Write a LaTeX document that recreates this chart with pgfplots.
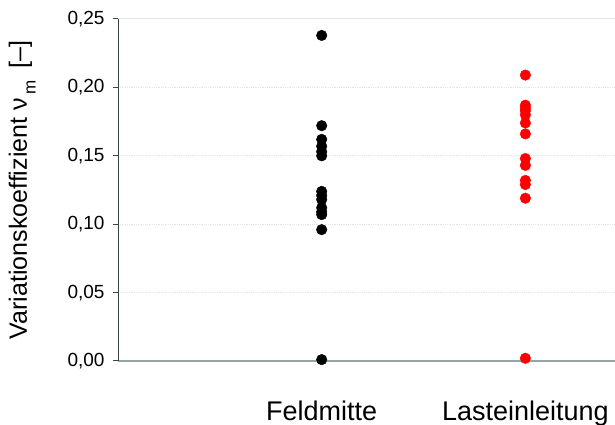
\documentclass[border=0pt]{standalone}
\usepackage{pgfplots}
\pgfplotsset{compat=1.18}
\usepackage{fontspec}
\setmainfont{Liberation Sans}
\definecolor{axgrey}{HTML}{95A5A6}
\definecolor{gridgrey}{HTML}{E4E4E4}
\definecolor{yaxis}{HTML}{3A4444}
\begin{document}
\begin{tikzpicture}
\useasboundingbox (0,0) rectangle (615bp,425bp);
\begin{axis}[
  at={(118bp,64bp)}, anchor=south west,
  scale only axis, width=497bp, height=342bp,
  xmin=0, xmax=2.44, ymin=0, ymax=0.25,
  axis line style={draw=none},
  clip=false,
  ytick={0,0.05,...,0.25},
  xtick={1,2}, xticklabels={Feldmitte,Lasteinleitung},
  major tick length=0pt, tick style={draw=none},
  yticklabel style={font=\fontsize{19bp}{20bp}\selectfont, /pgf/number format/.cd, use comma, fixed, fixed zerofill, precision=2, assume math mode=true, /tikz/.cd, xshift=-10bp},
  xticklabel style={font=\fontsize{27bp}{30bp}\selectfont, yshift=-36bp},
  ylabel={Variationskoeffizient ν\,\raisebox{-0.35em}{\fontsize{17bp}{18bp}\selectfont m}\, [–]},
  ylabel style={font=\fontsize{25bp}{28bp}\selectfont, at={(axis description cs:-0.193,0.5)}, anchor=center},
]
% grid
\addplot[gridgrey, densely dotted, line width=0.8bp, forget plot] coordinates {(0,0.05) (2.44,0.05)};
\addplot[gridgrey, densely dotted, line width=0.8bp, forget plot] coordinates {(0,0.10) (2.44,0.10)};
\addplot[gridgrey, densely dotted, line width=0.8bp, forget plot] coordinates {(0,0.15) (2.44,0.15)};
\addplot[gridgrey, densely dotted, line width=0.8bp, forget plot] coordinates {(0,0.20) (2.44,0.20)};
\addplot[gridgrey, line width=1bp, forget plot] coordinates {(0,0.25) (2.44,0.25)};
% axes
\addplot[axgrey, line width=1.5bp, forget plot] coordinates {(0,0) (2.44,0)};
\addplot[yaxis, line width=1bp, forget plot] coordinates {(0,0) (0,0.25)};
\pgfplotsinvokeforeach{0,0.05,0.10,0.15,0.20,0.25}{
  \draw[yaxis, line width=1bp] (axis cs:0,#1) -- ++(-5bp,0);
}
% data
\addplot[only marks, mark=*, mark size=5.3bp, black, mark options={draw=black, fill=black}] coordinates {
(1,0.238) (1,0.172) (1,0.162) (1,0.157) (1,0.153) (1,0.150)
(1,0.124) (1,0.121) (1,0.118) (1,0.112) (1,0.109) (1,0.107) (1,0.096) (1,0.001)
};
\addplot[only marks, mark=*, mark size=5.3bp, red, mark options={draw=red, fill=red}] coordinates {
(2,0.209) (2,0.187) (2,0.185) (2,0.183) (2,0.180) (2,0.174) (2,0.166)
(2,0.148) (2,0.143) (2,0.132) (2,0.129) (2,0.119) (2,0.002)
};
\end{axis}
\end{tikzpicture}
\end{document}
